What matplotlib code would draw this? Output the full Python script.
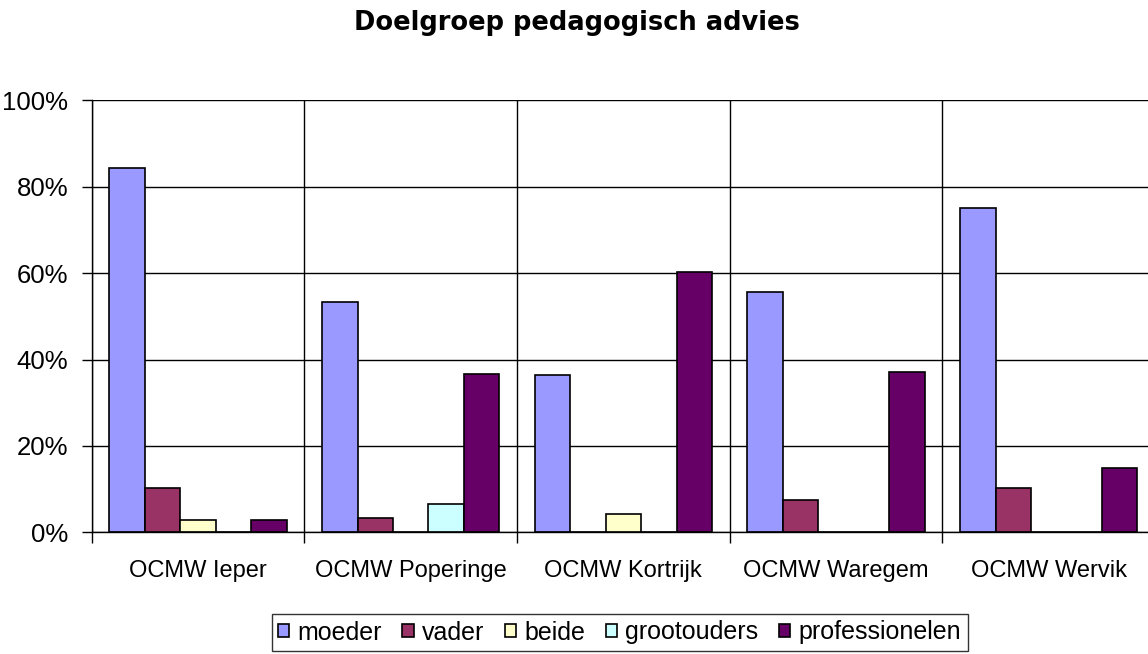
import matplotlib.pyplot as plt
import numpy as np

plt.rcParams['font.family'] = ['Liberation Sans', 'DejaVu Sans']

# data (percent)
categories = ['OCMW Ieper', 'OCMW Poperinge', 'OCMW Kortrijk', 'OCMW Waregem', 'OCMW Wervik']
series_names = ['moeder', 'vader', 'beide', 'grootouders', 'professionelen']
moeder = [84.3, 53.3, 36.3, 55.7, 75.1]
vader = [10.3, 3.4, 0.0, 7.5, 10.3]
beide = [2.9, 0.0, 4.3, 0.0, 0.0]
grootouders = [0.0, 6.6, 0.0, 0.0, 0.0]
professionelen = [2.9, 36.7, 60.3, 37.1, 14.9]
colors = ['#9999FF', '#993366', '#FFFFCC', '#CCFFFF', '#660066']

values = [moeder, vader, beide, grootouders, professionelen]

W, H = 1148, 654
fig = plt.figure(figsize=(W / 100, H / 100), dpi=100)
# plot area runs past the right edge of the image, as in the original
x0, x1 = 91.7, 1155.0
y0, y1 = 532.3, 100.3
ax = fig.add_axes([x0 / W, (H - y0) / H, (x1 - x0) / W, (y0 - y1) / H])

x = np.arange(len(categories))
bw = 1 / 6
for i, (name, vals, col) in enumerate(zip(series_names, values, colors)):
    ax.bar(x - 2 * bw + i * bw, vals, width=bw, color=col, edgecolor='black',
           linewidth=1.2, label=name, zorder=3)

ax.set_xlim(-0.5, len(categories) - 0.5)
ax.set_ylim(0, 100)

ax.set_yticks(np.arange(0, 101, 20))
ax.set_yticklabels([f'{v}%' for v in range(0, 101, 20)], fontsize=18.5)
ax.tick_params(axis='y', direction='out', length=7, width=1, color='black', pad=10)

ax.set_xticks(x)
ax.set_xticklabels(categories, fontsize=17)
ax.tick_params(axis='x', which='major', length=0, pad=20)
ax.set_xticks(np.arange(-0.5, len(categories), 1), minor=True)
ax.tick_params(axis='x', which='minor', direction='out', length=8, width=1, color='black')

ax.grid(axis='y', which='major', color='black', linewidth=1, zorder=0)
ax.grid(axis='x', which='minor', color='black', linewidth=1, zorder=0)
ax.set_axisbelow(True)

for s in ['top', 'right']:
    ax.spines[s].set_visible(False)
for s in ['left', 'bottom']:
    ax.spines[s].set_color('black')
    ax.spines[s].set_linewidth(1)
    ax.spines[s].set_zorder(4)

fig.text(577 / W, 1 - 23 / H, 'Doelgroep pedagogisch advies', ha='center', va='center',
         fontsize=18.5, fontweight='bold', family='DejaVu Sans')

leg = fig.legend(loc='center', bbox_to_anchor=(619.5 / W, 21.5 / H), ncol=5, fontsize=18,
                 frameon=True, fancybox=False, shadow=False, handlelength=0.45,
                 handleheight=0.45, handletextpad=0.35, columnspacing=0.8,
                 borderpad=0.25, borderaxespad=0)
leg.get_frame().set_edgecolor('black')
leg.get_frame().set_linewidth(1)

fig.savefig('out.png', dpi=100)
